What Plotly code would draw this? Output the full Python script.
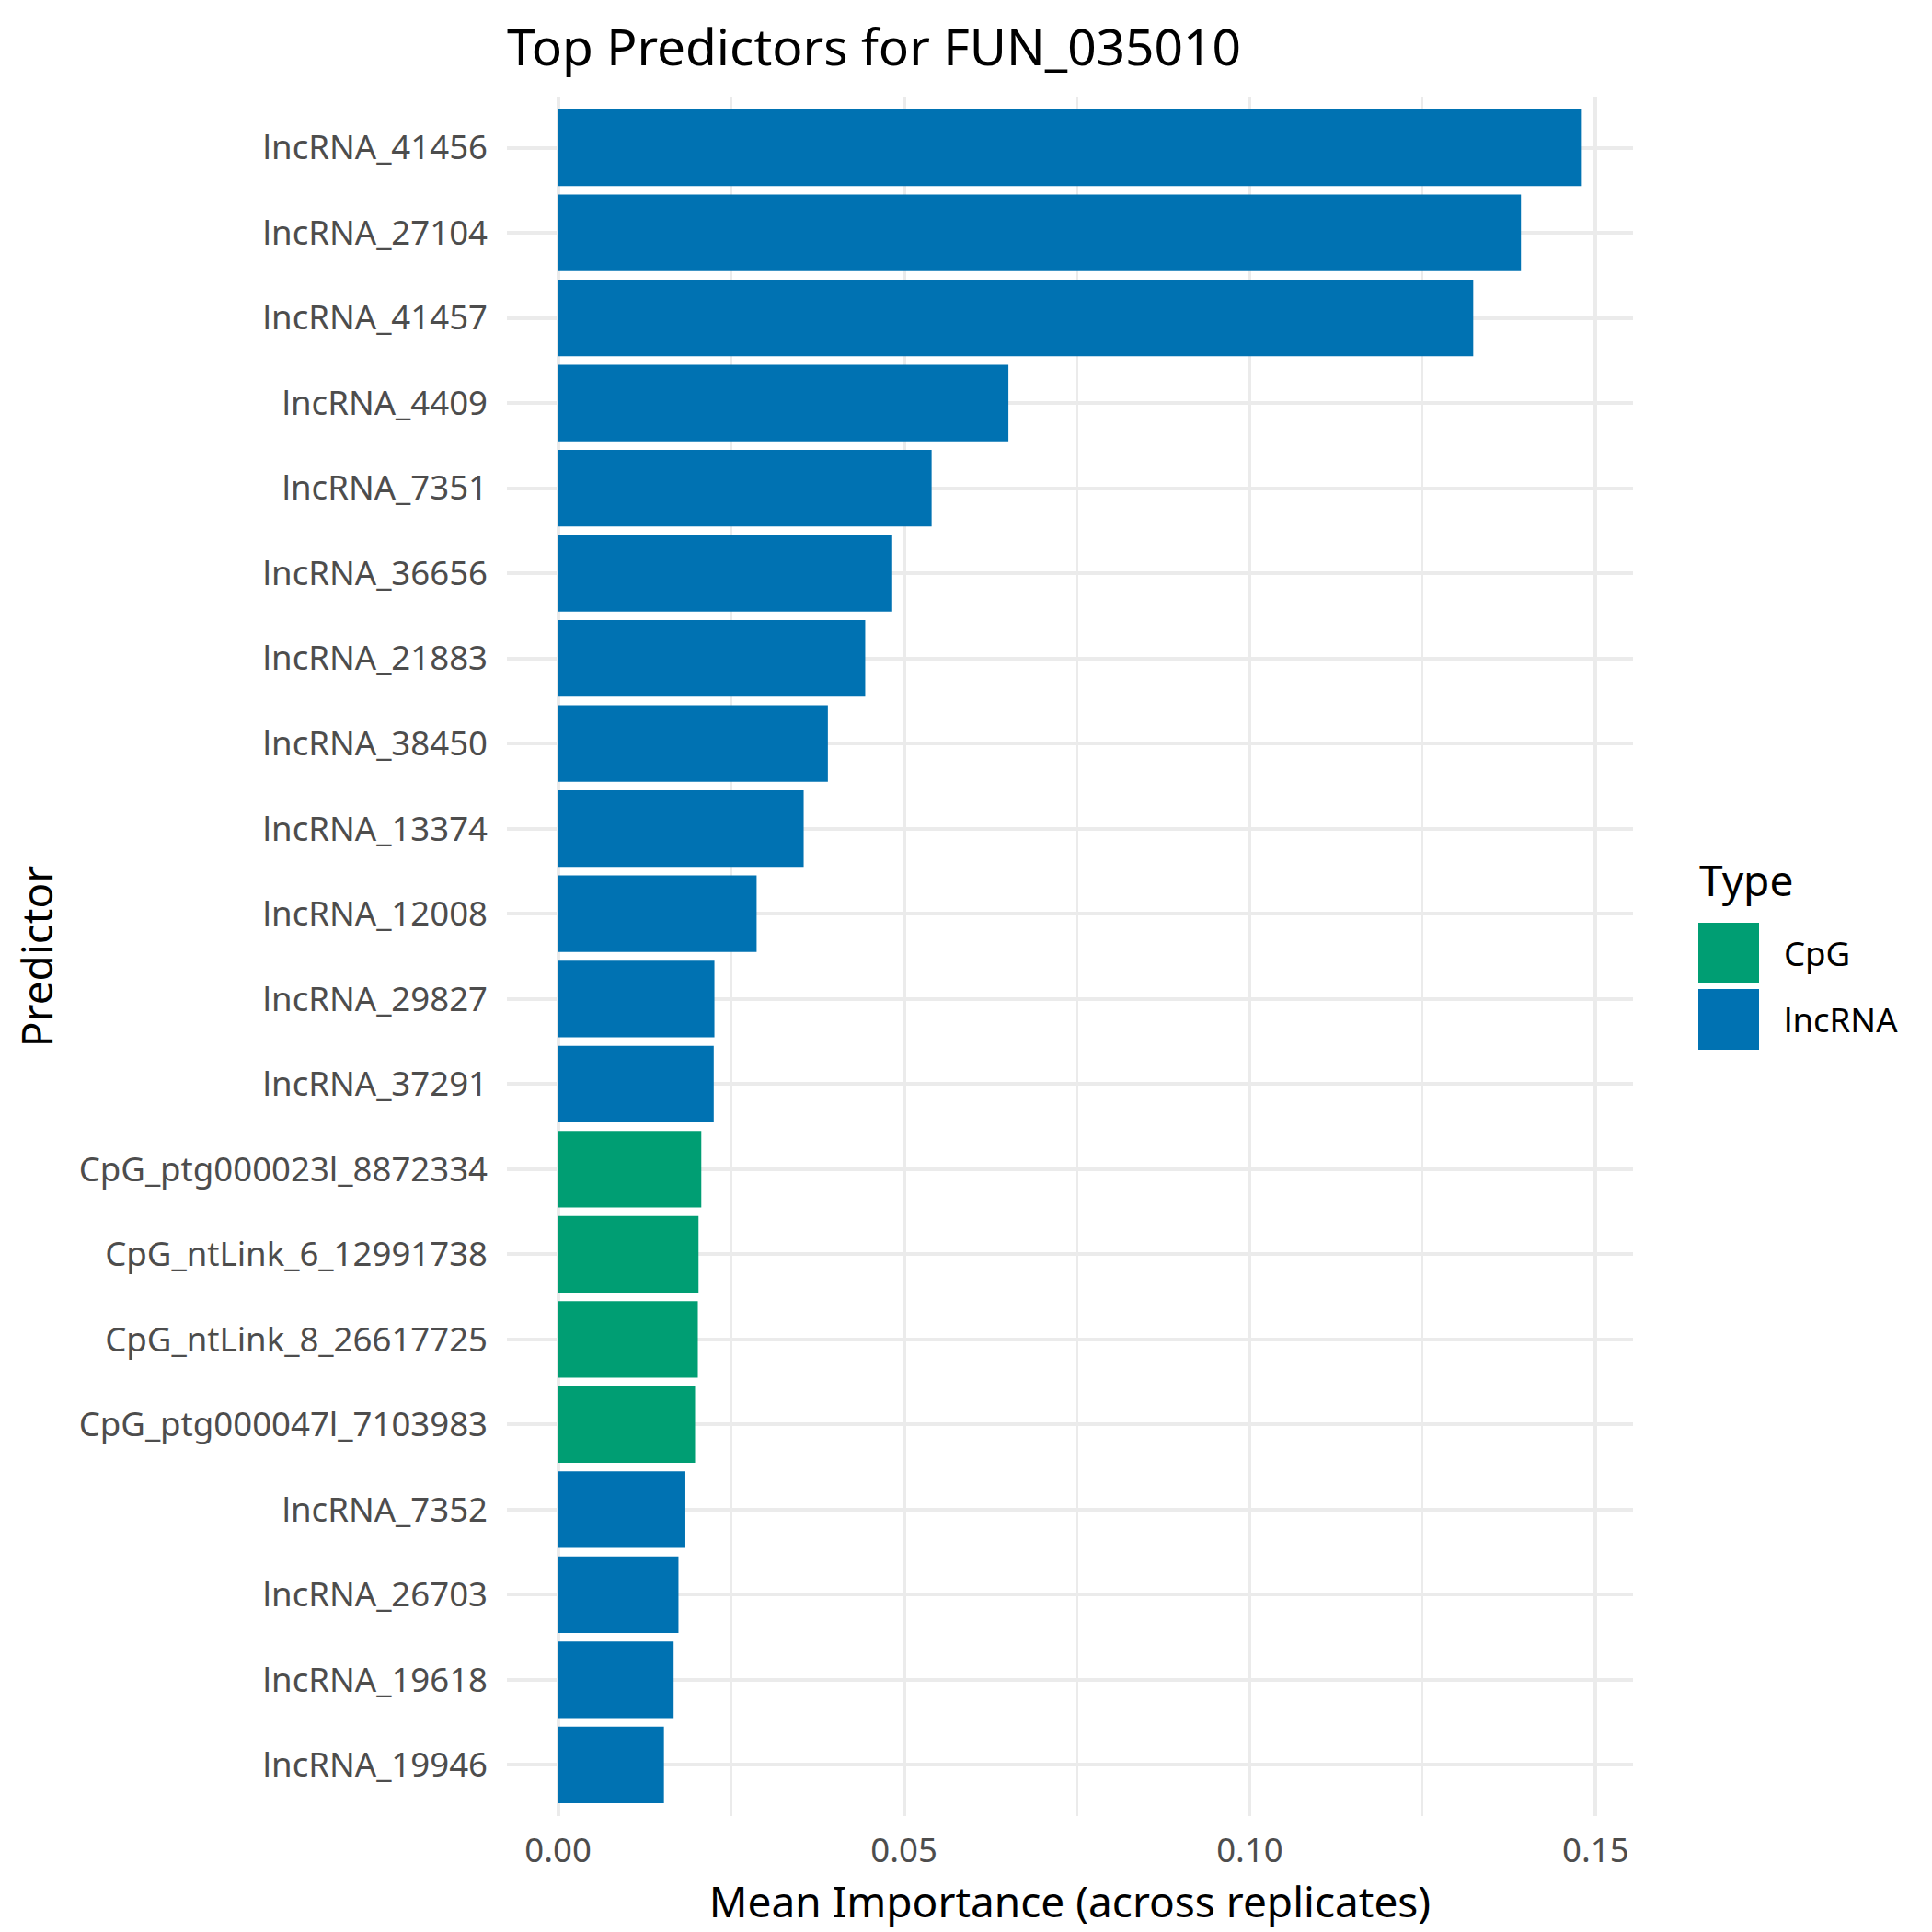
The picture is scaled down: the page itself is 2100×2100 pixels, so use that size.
import plotly.graph_objects as go

# ---------------- data ----------------
predictors = [
    "lncRNA_41456", "lncRNA_27104", "lncRNA_41457", "lncRNA_4409", "lncRNA_7351",
    "lncRNA_36656", "lncRNA_21883", "lncRNA_38450", "lncRNA_13374", "lncRNA_12008",
    "lncRNA_29827", "lncRNA_37291", "CpG_ptg000023l_8872334", "CpG_ntLink_6_12991738",
    "CpG_ntLink_8_26617725", "CpG_ptg000047l_7103983", "lncRNA_7352", "lncRNA_26703",
    "lncRNA_19618", "lncRNA_19946",
]
importance = [
    0.1480, 0.1392, 0.1323, 0.0651, 0.0540,
    0.0483, 0.0444, 0.0390, 0.0355, 0.0287,
    0.0226, 0.0225, 0.0207, 0.0203,
    0.0202, 0.0198, 0.0184, 0.0174,
    0.0167, 0.0153,
]
types = [
    "lncRNA", "lncRNA", "lncRNA", "lncRNA", "lncRNA",
    "lncRNA", "lncRNA", "lncRNA", "lncRNA", "lncRNA",
    "lncRNA", "lncRNA", "CpG", "CpG",
    "CpG", "CpG", "lncRNA", "lncRNA",
    "lncRNA", "lncRNA",
]
type_levels = ["CpG", "lncRNA"]
type_colors = {"CpG": "#009E73", "lncRNA": "#0072B2"}
x_ticks = [0.0, 0.05, 0.10, 0.15]
x_tick_labels = ["0.00", "0.05", "0.10", "0.15"]

# ---------------- layout constants ----------------
W, H = 2100, 2100
L, R, T, B = 543, 333, 97, 134
PW, PH = W - L - R, H - T - B
FONT = "Noto Sans"
GRID = "#EBEBEB"

xmax = max(importance)
xr = [-0.05 * xmax, xmax * 1.05]

fig = go.Figure()
fig.add_trace(go.Bar(
    x=importance, y=predictors, orientation="h",
    marker=dict(color=[type_colors[t] for t in types], line=dict(width=0)),
    width=0.9, showlegend=False,
    hovertemplate="%{y}: %{x:.4f}<extra></extra>",
))

fig.update_layout(
    width=W, height=H,
    margin=dict(l=L, r=R, t=T, b=B, autoexpand=False),
    paper_bgcolor="white", plot_bgcolor="white",
    font=dict(family=FONT, size=36.6, color="#4D4D4D"),
    title=dict(text="Top Predictors for FUN_035010", x=0, xref="paper", xanchor="left",
               y=1 - 44 / H, yref="container", yanchor="middle",
               font=dict(family=FONT, size=55, color="black")),
    xaxis=dict(
        range=xr, tickvals=x_ticks, ticktext=x_tick_labels,
        showgrid=True, gridcolor=GRID, gridwidth=4.3, zeroline=False,
        showline=False, ticks="", ticklabelstandoff=12,
        tickfont=dict(family=FONT, size=36.6, color="#4D4D4D"),
        minor=dict(dtick=0.025, tick0=0, showgrid=True, gridcolor=GRID, gridwidth=2.2),
        title=dict(text="Mean Importance (across replicates)", standoff=8,
                   font=dict(family=FONT, size=46, color="black")),
    ),
    yaxis=dict(
        type="category", categoryorder="array", categoryarray=predictors,
        range=[len(predictors) - 0.4, -0.6],
        showgrid=True, gridcolor=GRID, gridwidth=4.3, zeroline=False,
        showline=False, ticks="", ticklabelstandoff=20,
        tickfont=dict(family=FONT, size=36.6, color="#4D4D4D"),
        title=dict(text="Predictor", standoff=18,
                   font=dict(family=FONT, size=46, color="black")),
    ),
    bargap=0.1,
)

# ---------------- manual legend (ggplot style) ----------------
def px_to_paper(px, py):
    return (px - L) / PW, (H - B - py) / PH

lx, ly = px_to_paper(1837, 948)
fig.add_annotation(text="Type", x=lx, y=ly, xref="paper", yref="paper",
                   xanchor="left", yanchor="middle", showarrow=False,
                   font=dict(family=FONT, size=46, color="black"))
key_top = 995
key_size = 66
key_gap = 6
for i, t in enumerate(type_levels):
    y0 = key_top + i * (key_size + key_gap)
    x0p, y0p = px_to_paper(1838, y0)
    x1p, y1p = px_to_paper(1838 + key_size, y0 + key_size)
    fig.add_shape(type="rect", xref="paper", yref="paper",
                  x0=x0p, x1=x1p, y0=y1p, y1=y0p,
                  fillcolor=type_colors[t], line=dict(width=0))
    tx, ty = px_to_paper(1929, y0 + key_size / 2)
    fig.add_annotation(text=t, x=tx, y=ty, xref="paper", yref="paper",
                       xanchor="left", yanchor="middle", showarrow=False,
                       font=dict(family=FONT, size=36.6, color="black"))

fig.write_html("out.html")
